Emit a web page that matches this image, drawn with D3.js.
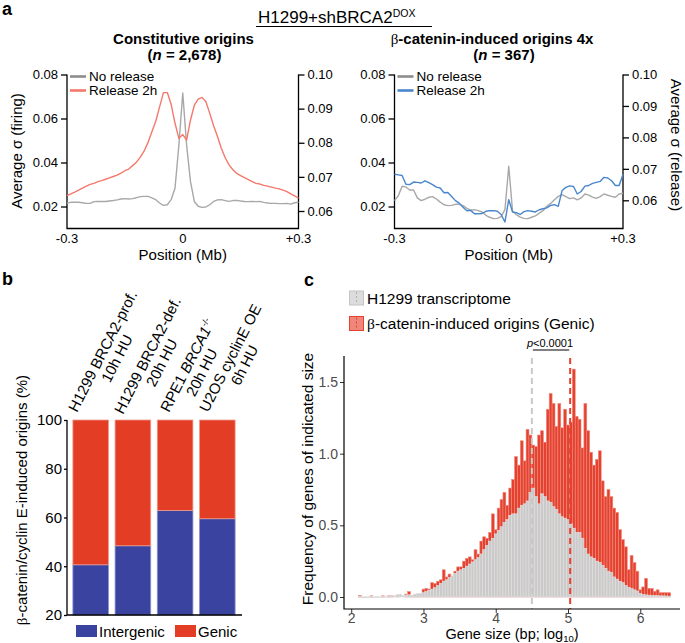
<!DOCTYPE html>
<html><head><meta charset="utf-8">
<script src="https://cdn.jsdelivr.net/npm/d3@7"></script>
<style>
body{margin:0;background:#fff;}
svg{display:block;font-family:"Liberation Sans",Arial,Helvetica,sans-serif;}
</style></head><body>
<svg id="fig" width="685" height="643"></svg>
<script>
// ================= Panel a data =================
const positionsMb = [-0.30,-0.29,-0.28,-0.27,-0.26,-0.25,-0.24,-0.23,-0.22,-0.21,-0.20,-0.19,-0.18,-0.17,-0.16,-0.15,-0.14,-0.13,-0.12,-0.11,-0.10,-0.09,-0.08,-0.07,-0.06,-0.05,-0.04,-0.03,-0.02,-0.01,0,
 0.01,0.02,0.03,0.04,0.05,0.06,0.07,0.08,0.09,0.10,0.11,0.12,0.13,0.14,0.15,0.16,0.17,0.18,0.19,0.20,0.21,0.22,0.23,0.24,0.25,0.26,0.27,0.28,0.29,0.30];
const constNoRelease = [0.0216,0.0219,0.0220,0.0219,0.0217,0.0214,0.0214,0.0222,0.0223,0.0223,
 0.0223,0.0225,0.0227,0.0230,0.0234,0.0236,0.0234,0.0236,0.0240,0.0245,
 0.0246,0.0246,0.0239,0.0231,0.0216,0.0205,0.0208,0.0231,0.0284,0.0480,
 0.0716,
 0.0480,0.0314,0.0223,0.0201,0.0196,0.0198,0.0208,0.0223,0.0230,0.0231,
 0.0227,0.0223,0.0227,0.0228,0.0225,0.0223,0.0222,0.0223,0.0222,0.0223,
 0.0219,0.0216,0.0214,0.0214,0.0213,0.0213,0.0214,0.0211,0.0217,0.0219];
const constRelease2h = [0.0645,0.0650,0.0655,0.0661,0.0667,0.0673,0.0678,0.0681,0.0686,0.0689,
 0.0693,0.0697,0.0701,0.0705,0.0711,0.0718,0.0723,0.0733,0.0743,0.0758,
 0.0776,0.0801,0.0832,0.0863,0.0905,0.0947,0.0947,0.0912,0.0857,0.0813,
 0.0824,
 0.0808,0.0866,0.0910,0.0928,0.0933,0.0920,0.0886,0.0850,0.0818,0.0784,
 0.0756,0.0735,0.0721,0.0710,0.0704,0.0698,0.0692,0.0686,0.0681,0.0679,
 0.0675,0.0673,0.0670,0.0667,0.0665,0.0661,0.0657,0.0650,0.0644,0.0638];
const betaNoRelease = [0.0227,0.0249,0.0292,0.0289,0.0275,0.0275,0.0239,0.0227,0.0233,0.0242,
 0.0245,0.0234,0.0220,0.0208,0.0204,0.0205,0.0210,0.0210,0.0204,0.0192,
 0.0183,0.0186,0.0181,0.0175,0.0160,0.0151,0.0145,0.0146,0.0154,0.0186,
 0.0383,
 0.0178,0.0163,0.0152,0.0146,0.0145,0.0151,0.0157,0.0170,0.0181,0.0201,
 0.0214,0.0231,0.0246,0.0254,0.0245,0.0236,0.0239,0.0230,0.0239,0.0257,
 0.0252,0.0243,0.0237,0.0245,0.0257,0.0251,0.0246,0.0242,0.0257,0.0260];
const betaRelease2h = [0.0683,0.0681,0.0679,0.0651,0.0650,0.0658,0.0657,0.0655,0.0662,0.0656,
 0.0650,0.0642,0.0639,0.0624,0.0625,0.0612,0.0599,0.0591,0.0578,0.0567,
 0.0568,0.0557,0.0557,0.0558,0.0565,0.0567,0.0567,0.0565,0.0555,0.0531,
 0.0602,
 0.0563,0.0561,0.0555,0.0564,0.0567,0.0565,0.0563,0.0570,0.0573,0.0576,
 0.0584,0.0586,0.0581,0.0631,0.0641,0.0646,0.0644,0.0620,0.0628,0.0645,
 0.0647,0.0654,0.0657,0.0660,0.0673,0.0671,0.0662,0.0647,0.0647,0.0683];
const firingTicks = [0.02,0.04,0.06,0.08];
const releaseTicks = [0.06,0.07,0.08,0.09,0.10];
const positionTicks = [-0.3,0,0.3];
const positionTickLabels = ["-0.3","0","+0.3"];
const legendA = ["No release","Release 2h"];

// ================= Panel b data =================
const bCategories = [
  ["H1299 BRCA2-prof.","10h HU"],
  ["H1299 BRCA2-def.","20h HU"],
  ["RPE1 BRCA1-/-","20h HU"],
  ["U2OS cyclinE OE","6h HU"]
];
const intergenicPct = [40.6, 48.4, 62.9, 59.5];
const genicPct = [59.4, 51.6, 37.1, 40.5];
const bTicks = [20,40,60,80,100];
const bLegend = ["Intergenic","Genic"];

// ================= Panel c data =================
const histBinStart = 2.10, histBinWidth = 0.04;
const transcriptomeFreq = [0.004,0.002,0.002,0.003,0.003,0.003,0.004,0.004,0.005,0.005,
 0.006,0.007,0.009,0.018,0.020,0.012,0.014,0.016,0.012,0.020,
 0.024,0.026,0.030,0.038,0.047,0.055,0.065,0.080,0.095,0.110,
 0.120,0.135,0.150,0.165,0.180,0.190,0.200,0.215,0.230,0.245,
 0.260,0.275,0.300,0.330,0.360,0.390,0.410,0.440,0.465,0.490,
 0.520,0.540,0.570,0.580,0.580,0.620,0.640,0.650,0.670,0.730,
 0.760,0.700,0.650,0.720,0.700,0.670,0.660,0.630,0.610,0.580,
 0.560,0.550,0.540,0.510,0.480,0.450,0.450,0.410,0.340,0.300,
 0.280,0.270,0.250,0.240,0.220,0.200,0.180,0.170,0.140,0.125,
 0.110,0.100,0.080,0.068,0.058,0.050,0.042,0.026,0.018,0.015,
 0.013,0.011,0.010,0.009,0.008,0.008,0.007,0.006];
const genicOriginFreq = [0.010,0,0,0,0.008,0,0,0,0.008,0,
 0.008,0.008,0,0.005,0,0,0.020,0.037,0.010,0.015,
 0.020,0.020,0.055,0.060,0.055,0.100,0.095,0.110,0.120,0.190,
 0.140,0.160,0.145,0.180,0.210,0.210,0.250,0.270,0.280,0.260,
 0.330,0.300,0.390,0.420,0.410,0.450,0.580,0.470,0.620,0.680,
 0.730,0.640,0.760,0.820,0.980,0.920,1.090,0.950,1.170,1.130,
 1.060,1.050,1.130,1.160,1.080,1.310,1.420,1.350,1.190,1.350,
 1.180,1.310,1.200,1.220,1.590,1.260,1.240,1.040,1.350,1.160,
 1.010,0.920,0.960,1.020,0.810,0.700,0.750,0.700,0.620,0.590,
 0.470,0.400,0.350,0.190,0.290,0.240,0.180,0.050,0.070,0.130,
 0.060,0.060,0.040,0.050,0.030,0.030,0.030,0.030];
const cXTicks = [2,3,4,5,6];
const cYTicks = [0,0.5,1.0,1.5];
const cYTickLabels = ["0.0","0.5","1.0","1.5"];
const medianTranscriptome = 4.50, medianGenic = 5.03;
const cLegend = ["H1299 transcriptome","β-catenin-induced origins (Genic)"];

// ================= Drawing =================
const svg = d3.select("#fig");
const FONT_TICK = 13;

svg.append("text").attr("x",2).attr("y",15).attr("font-size",18).attr("font-weight","bold").text("a");
svg.append("text").attr("x",2).attr("y",285).attr("font-size",18).attr("font-weight","bold").text("b");
svg.append("text").attr("x",304).attr("y",286).attr("font-size",18).attr("font-weight","bold").text("c");

const hdr = svg.append("text").attr("x",258).attr("y",22.5).attr("font-size",17);
hdr.append("tspan").text("H1299+shBRCA2");
hdr.append("tspan").attr("font-size",10.5).attr("dy",-5.5).text("DOX");
svg.append("line").attr("x1",256).attr("x2",432).attr("y1",26.5).attr("y2",26.5).attr("stroke","#000").attr("stroke-width",1.2);

function drawPanelA(opt){
  const g = svg.append("g");
  const x = d3.scaleLinear().domain([-0.3,0.3]).range([opt.x0,opt.x1]);
  const yL = d3.scaleLinear().domain([0.01,0.08]).range([228.5,74.5]);
  const yR = d3.scaleLinear().domain([0.06,0.10]).range([opt.yR06,74.5]);
  const top = 74.5, bot = 228.5;
  const tt = g.append("text").attr("x",opt.titleX).attr("y",44).attr("text-anchor","middle").attr("font-size",15).attr("font-weight","bold");
  if(opt.title.startsWith("β")){
    tt.append("tspan").attr("font-weight","normal").attr("font-family","Liberation Serif, serif").text("β");
    tt.append("tspan").text(opt.title.slice(1));
  } else tt.text(opt.title);
  const st = g.append("text").attr("x",opt.subX).attr("y",59.5).attr("text-anchor","middle").attr("font-size",15).attr("font-weight","bold");
  st.append("tspan").text("(");
  st.append("tspan").attr("font-style","italic").text("n");
  st.append("tspan").text(" = "+opt.n+")");
  const ax = g.append("g").attr("stroke","#000").attr("stroke-width",1.3).attr("fill","none");
  ax.append("path").attr("d",`M${opt.x0},${top}V${bot}H${opt.x1}V${top}`);
  const la = g.append("g").attr("transform",`translate(${opt.x0},0)`)
    .call(d3.axisLeft(yL).tickValues(firingTicks).tickSize(6).tickPadding(3).tickFormat(d3.format(".2f")));
  la.select(".domain").remove();
  const ra = g.append("g").attr("transform",`translate(${opt.x1},0)`)
    .call(d3.axisRight(yR).tickValues(releaseTicks).tickSize(6).tickPadding(3).tickFormat(d3.format(".2f")));
  ra.select(".domain").remove();
  [la,ra].forEach(a=>{a.selectAll("line").attr("stroke","#000").attr("stroke-width",1.3);
    a.selectAll("text").attr("font-size",FONT_TICK).attr("fill","#000").attr("font-family","Liberation Sans, Arial, sans-serif");});
  g.selectAll(".xt").data(positionTicks).join("text")
    .attr("x",d=>x(d)).attr("y",243).attr("text-anchor","middle").attr("font-size",FONT_TICK)
    .text((d,i)=>positionTickLabels[i]);
  g.append("text").attr("x",(opt.x0+opt.x1)/2).attr("y",259.5).attr("text-anchor","middle").attr("font-size",15).text("Position (Mb)");
  const lineL = d3.line().x((d,i)=>x(positionsMb[i])).y(d=>yL(d));
  const lineR = d3.line().x((d,i)=>x(positionsMb[i])).y(d=>yR(d));
  g.append("path").datum(opt.noRel).attr("d",lineL).attr("fill","none").attr("stroke","#a8a8a8").attr("stroke-width",1.4).attr("stroke-linejoin","round");
  g.append("path").datum(opt.rel).attr("d",lineR).attr("fill","none").attr("stroke",opt.relColor).attr("stroke-width",1.4).attr("stroke-linejoin","round");
  const lg = g.append("g");
  const lcols = ["#8c8c8c", opt.relColor];
  legendA.forEach((t,i)=>{
    const yy = 76.5 + i*14;
    lg.append("line").attr("x1",opt.x0+3).attr("x2",opt.x0+19).attr("y1",yy).attr("y2",yy).attr("stroke",lcols[i]).attr("stroke-width",2.6);
    lg.append("text").attr("x",opt.x0+22).attr("y",yy+4.8).attr("font-size",13.5).text(t);
  });
  if(opt.leftLabel){
    g.append("text").attr("transform",`translate(22,151) rotate(-90)`).attr("text-anchor","middle").attr("font-size",15).text(opt.leftLabel);
  }
  if(opt.rightLabel){
    g.append("text").attr("transform",`translate(671,145) rotate(90)`).attr("text-anchor","middle").attr("font-size",15).text(opt.rightLabel);
  }
}

drawPanelA({x0:67,x1:298.5,yR06:211,title:"Constitutive origins",titleX:183.5,subX:184.5,n:"2,678",
  noRel:constNoRelease, rel:constRelease2h, relColor:"#f4796b", leftLabel:"Average σ (firing)"});
drawPanelA({x0:394.5,x1:623,yR06:200.3,title:"β-catenin-induced origins 4x",titleX:492,subX:504,n:"367",
  noRel:betaNoRelease, rel:betaRelease2h, relColor:"#4a86cb", rightLabel:"Average σ (release)"});

// ================= Panel b =================
(function(){
  const g = svg.append("g");
  const x = d3.scaleBand().domain(d3.range(bCategories.length)).range([69.5,238.5]).paddingInner(0.155).paddingOuter(0.08);
  const y = d3.scaleLinear().domain([20,100]).range([615,420]);
  const blue = "#3a44a0", red = "#e33d26";
  const rows = intergenicPct.map((v,i)=>({i, Intergenic:v, Genic:genicPct[i]}));
  const stack = d3.stack().keys(bLegend)(rows);
  const cols = {Intergenic:blue, Genic:red};
  const strokes = {Intergenic:"#8f95d0", Genic:"#f19c8c"};
  stack.forEach(s=>{
    g.selectAll(null).data(s).join("rect")
      .attr("x",d=>x(d.data.i)).attr("width",x.bandwidth())
      .attr("y",d=>y(d[1])).attr("height",d=>y(Math.max(d[0],20))-y(d[1]))
      .attr("fill",cols[s.key]).attr("stroke",strokes[s.key]).attr("stroke-width",0.8);
  });
  const ya = g.append("g").attr("transform","translate(67,0)").call(d3.axisLeft(y).tickValues(bTicks).tickSize(3).tickPadding(2));
  ya.select(".domain").remove();
  ya.selectAll("line").attr("stroke","#000").attr("stroke-width",1.3);
  ya.selectAll("text").attr("font-size",15).attr("fill","#000").attr("font-family","Liberation Sans, Arial, sans-serif");
  g.append("path").attr("d","M67,420V615H242").attr("fill","none").attr("stroke","#000").attr("stroke-width",1.3);
  const yl = g.append("text").attr("transform","translate(27,500) rotate(-90)").attr("text-anchor","middle").attr("font-size",15);
  yl.append("tspan").attr("font-family","Liberation Serif, serif").text("β");
  yl.append("tspan").text("-catenin/cyclin E-induced origins (%)");
  const starts = [[77,413],[123,415],[169,413],[208,413]];
  const ang = -63;
  bCategories.forEach((lines,i)=>{
    const lg = g.append("g").attr("transform",`translate(${starts[i][0]},${starts[i][1]}) rotate(${ang})`);
    const t1 = lg.append("text").attr("x",0).attr("y",0).attr("font-size",15);
    if(lines[0].startsWith("RPE1")){
      t1.append("tspan").text("RPE1 ");
      t1.append("tspan").attr("font-style","italic").text("BRCA1");
      t1.append("tspan").attr("font-size",9).attr("dy",-6).text("-/-");
    } else t1.text(lines[0]);
    const L = t1.node().getComputedTextLength();
    lg.append("text").attr("x",L/2).attr("y",16).attr("text-anchor","middle").attr("font-size",15).text(lines[1]);
  });
  const lx = [76,175];
  bLegend.forEach((t,i)=>{
    g.append("rect").attr("x",lx[i]).attr("y",625).attr("width",21).attr("height",12).attr("fill",i?red:blue);
    g.append("text").attr("x",lx[i]+23).attr("y",636.5).attr("font-size",15).text(t);
  });
})();

// ================= Panel c =================
(function(){
  const g = svg.append("g");
  const x = d3.scaleLinear().domain([1.9,6.55]).range([344,680]);
  const y = d3.scaleLinear().domain([0,1.5]).range([597,382]);
  const redBins = genicOriginFreq.map((v,i)=>({x0:histBinStart+i*histBinWidth, v}));
  const grayBins = transcriptomeFreq.map((v,i)=>({x0:histBinStart+i*histBinWidth, v}));
  g.selectAll(".rb").data(redBins).join("rect")
    .attr("x",d=>x(d.x0)).attr("width",d=>x(d.x0+histBinWidth)-x(d.x0))
    .attr("y",d=>y(d.v)).attr("height",d=>y(0)-y(d.v))
    .attr("fill","#e5412f").attr("stroke","#f08a7e").attr("stroke-width",0.6);
  g.selectAll(".gb").data(grayBins).join("rect")
    .attr("x",d=>x(d.x0)).attr("width",d=>x(d.x0+histBinWidth)-x(d.x0))
    .attr("y",d=>y(d.v)).attr("height",d=>Math.max(1.2,y(0)-y(d.v)))
    .attr("fill","#cacaca").attr("stroke","#e4e4e4").attr("stroke-width",0.6);
  g.append("line").attr("x1",x(medianTranscriptome)).attr("x2",x(medianTranscriptome)).attr("y1",358).attr("y2",609)
    .attr("stroke","#c8c8c8").attr("stroke-width",2).attr("stroke-dasharray","6,4");
  g.append("line").attr("x1",x(medianGenic)).attr("x2",x(medianGenic)).attr("y1",358).attr("y2",609)
    .attr("stroke","#e5412f").attr("stroke-width",2).attr("stroke-dasharray","6,4");
  g.append("line").attr("x1",x(medianTranscriptome)+1).attr("x2",x(medianGenic)-1).attr("y1",350).attr("y2",350).attr("stroke","#000").attr("stroke-width",1);
  const pt = g.append("text").attr("x",550).attr("y",347).attr("text-anchor","middle").attr("font-size",11);
  pt.append("tspan").attr("font-style","italic").text("p");
  pt.append("tspan").text("<0.0001");
  const xa = g.append("g").attr("transform","translate(0,609)").call(d3.axisBottom(x).tickValues(cXTicks).tickSize(4).tickPadding(0).tickFormat(d3.format("d")));
  const ya = g.append("g").attr("transform","translate(344,0)").call(d3.axisLeft(y).tickValues(cYTicks).tickSize(4).tickPadding(2).tickFormat((d,i)=>cYTickLabels[i]));
  [xa,ya].forEach(a=>{a.select(".domain").remove();
    a.selectAll("line").attr("stroke","#333").attr("stroke-width",1);
    a.selectAll("text").attr("font-size",14).attr("fill","#4d4d4d").attr("font-family","Liberation Sans, Arial, sans-serif");});
  g.append("path").attr("d","M344,356V609H680").attr("fill","none").attr("stroke","#000").attr("stroke-width",1.2);
  g.append("text").attr("transform","translate(313,479) rotate(-90)").attr("text-anchor","middle").attr("font-size",15.5).text("Frequency of genes of indicated size");
  const xl = g.append("text").attr("x",512).attr("y",638.5).attr("text-anchor","middle").attr("font-size",14.5);
  xl.append("tspan").text("Gene size (bp; log");
  xl.append("tspan").attr("font-size",9.5).attr("dy",3.5).text("10");
  xl.append("tspan").attr("dy",-3.5).text(")");
  const keys = [{fill:"#dcdcdc",stroke:"#c4c4c4",dash:"#b0b0b0"},{fill:"#f0857a",stroke:"#e5412f",dash:"#e5412f"}];
  cLegend.forEach((t,i)=>{
    const yy = 291 + i*25.5;
    g.append("rect").attr("x",349.5).attr("y",yy).attr("width",14).attr("height",14).attr("fill",keys[i].fill).attr("stroke",keys[i].stroke).attr("stroke-width",1);
    g.append("line").attr("x1",356.5).attr("x2",356.5).attr("y1",yy+1).attr("y2",yy+13).attr("stroke",keys[i].dash).attr("stroke-width",1).attr("stroke-dasharray","2,2");
    const tx = g.append("text").attr("x",367).attr("y",yy+12.5).attr("font-size",15.5);
    if(t.startsWith("β")){
      tx.append("tspan").attr("font-family","Liberation Serif, serif").text("β");
      tx.append("tspan").text(t.slice(1));
    } else tx.text(t);
  });
})();
</script>
</body></html>
